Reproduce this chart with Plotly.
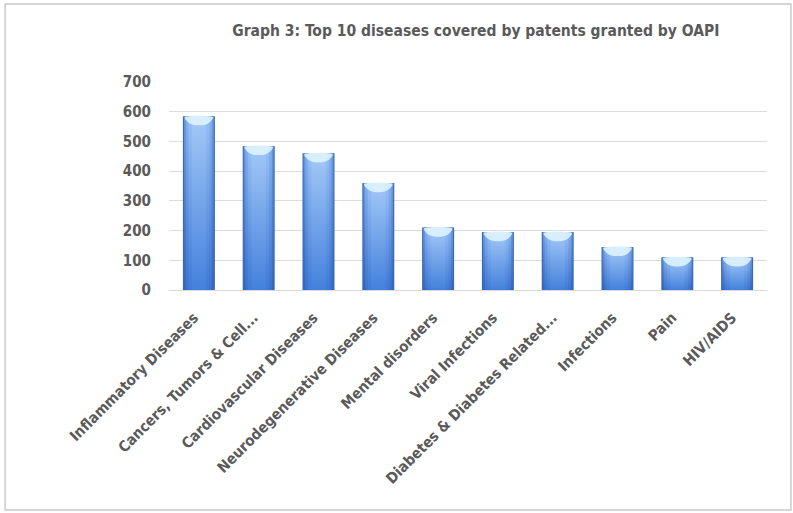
import plotly.graph_objects as go

# Top 10 diseases covered by patents granted by OAPI
diseases = [
    "Inflammatory Diseases",
    "Cancers, Tumors & Cell...",
    "Cardiovascular Diseases",
    "Neurodegenerative Diseases",
    "Mental disorders",
    "Viral Infections",
    "Diabetes & Diabetes Related...",
    "Infections",
    "Pain",
    "HIV/AIDS",
]
patents = [585, 485, 460, 360, 210, 195, 195, 145, 110, 110]
y_ticks = [0, 100, 200, 300, 400, 500, 600, 700]

FONT = "DejaVu Sans Condensed, Liberation Sans Narrow, Arial Narrow, sans-serif"
GREY = "#5a5a5a"
Y_MAX = 700
PLOT_H = 208                      # plot height in px (513 - top - bottom margins)
UNIT_PX = PLOT_H / Y_MAX          # px per patent

BAR_W = 0.535
positions = list(range(len(diseases)))

fig = go.Figure()

# solid columns: these carry the dark rim of each cylinder
fig.add_trace(go.Bar(
    x=positions, y=patents, width=BAR_W,
    marker=dict(color="#3a68b8", line=dict(width=0)),
    name="Patents", showlegend=False,
    hovertemplate="%{customdata}: %{y}<extra></extra>", customdata=diseases,
))

# nested vertical-gradient layers give the rounded, lit look of the columns
shade_layers = [
    (0.50, "#3366ba", "#6897dc"),
    (0.44, "#3a73cf", "#84b0ed"),
    (0.35, "#3e7ad7", "#98c0f4"),
    (0.24, "#4481dc", "#a4c9f7"),
]


def column_outline(center, width, top, bottom=0.0):
    x0, x1 = center - width / 2, center + width / 2
    return [x0, x1, x1, x0, x0], [bottom, bottom, top, top, bottom]


for pos, val in zip(positions, patents):
    for width, c_bottom, c_top in shade_layers:
        xs, ys = column_outline(pos, width, val)
        fig.add_trace(go.Scatter(
            x=xs, y=ys, mode="lines", fill="toself",
            line=dict(width=0, color="rgba(0,0,0,0)"),
            fillgradient=dict(type="vertical", start=0, stop=val,
                              colorscale=[[0, c_bottom], [1, c_top]]),
            hoverinfo="skip", showlegend=False,
        ))

    # bright cap just under the rim, its lower edge dipping toward the centre
    top = val - 1.2 / UNIT_PX
    d = 8 / UNIT_PX
    half = BAR_W / 2 - 0.03
    cap_x = [pos - half, pos + half, pos + half * 0.85, pos + half * 0.55,
             pos, pos - half * 0.55, pos - half * 0.85, pos - half]
    cap_y = [top, top, top - d * 0.45, top - d * 0.85,
             top - d, top - d * 0.85, top - d * 0.45, top]
    fig.add_trace(go.Scatter(
        x=cap_x, y=cap_y, mode="lines", fill="toself",
        line=dict(width=0, color="rgba(0,0,0,0)", shape="spline"),
        fillcolor="rgba(222,243,255,0.9)",
        hoverinfo="skip", showlegend=False,
    ))

fig.update_layout(
    width=793, height=513,
    paper_bgcolor="white", plot_bgcolor="white",
    margin=dict(l=169, r=26, t=82, b=223),
    title=dict(
        text="Graph 3: Top 10 diseases covered by patents granted by OAPI",
        x=0.6, xanchor="center", y=0.94, yanchor="middle",
        font=dict(family=FONT, size=15.5, color=GREY, weight="bold"),
    ),
    xaxis=dict(
        range=[-0.5, len(diseases) - 0.5],
        tickvals=positions, ticktext=diseases,
        tickangle=-45, showgrid=False, showline=True, zeroline=False,
        linecolor="#d9d9d9", linewidth=1, ticks="",
        ticklabelstandoff=12, ticklabelshift=-5,
        tickfont=dict(family=FONT, size=15, color=GREY, weight="bold"),
    ),
    yaxis=dict(
        range=[0, Y_MAX], tickvals=y_ticks, showgrid=True,
        gridcolor="#dcdcdc", gridwidth=1, zeroline=False, showline=False,
        ticks="", ticklabelstandoff=17,
        tickfont=dict(family=FONT, size=15, color=GREY, weight="bold"),
    ),
    shapes=[dict(
        type="rect", xref="paper", yref="paper",
        x0=-0.274, x1=1.040, y0=-1.058, y1=1.375,
        line=dict(color="#d6d6d6", width=2), fillcolor="rgba(0,0,0,0)",
        layer="below",
    )],
)

fig.write_html("out.html")
